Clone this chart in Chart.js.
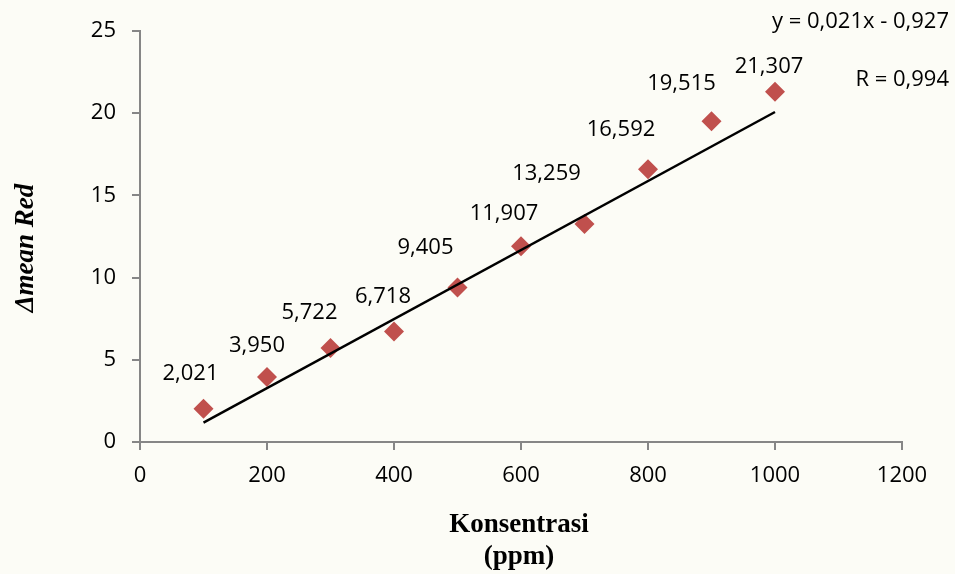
<!DOCTYPE html>
<html>
<head>
<meta charset="utf-8">
<script src="https://cdn.jsdelivr.net/npm/chart.js@4"></script>
<style>
  html, body { margin: 0; padding: 0; background: #fcfcf6; }
  #wrap { width: 955px; height: 574px; }
</style>
</head>
<body>
<div id="wrap"><canvas id="chart" width="955" height="574"></canvas></div>
<script>
// data
const konsentrasi = [100, 200, 300, 400, 500, 600, 700, 800, 900, 1000];
const meanRed = [2.021, 3.950, 5.722, 6.718, 9.405, 11.907, 13.259, 16.592, 19.515, 21.307];
const xTicks = [0, 200, 400, 600, 800, 1000, 1200];
const yTicks = [0, 5, 10, 15, 20, 25];

// trendline from the equation shown on the chart
const slope = 0.021;
const intercept = -0.927;
const trendFrom = 100;
const trendTo = 1000;

// label nudges (px) so labels sit like the original
const labelDx = [-13, -10, -21, -11, -32, -17, -38, -27, -30, -6];
const labelDy = [-35, -31, -35, -35, -40, -33, -50, -39, -37, -25];

const tickFont = { family: 'Open Sans', size: 22 };
const gray = '#868686';

const fmt = v => v.toFixed(3).replace('.', ',');

const pointLabels = {
  id: 'pointLabels',
  afterDatasetsDraw(chart) {
    const ctx = chart.ctx;
    const meta = chart.getDatasetMeta(0);
    ctx.save();
    ctx.font = '22px "Open Sans"';
    ctx.fillStyle = '#000';
    ctx.textAlign = 'center';
    ctx.textBaseline = 'middle';
    meta.data.forEach((pt, i) => {
      ctx.fillText(fmt(meanRed[i]), pt.x + labelDx[i], pt.y + labelDy[i]);
    });
    ctx.restore();
  }
};

const extraText = {
  id: 'extraText',
  afterDraw(chart) {
    const ctx = chart.ctx;
    ctx.save();
    ctx.fillStyle = '#000';
    ctx.textBaseline = 'middle';

    // equation + R
    ctx.font = '22px "Open Sans"';
    ctx.textAlign = 'right';
    ctx.fillText('y = 0,021x - 0,927', 949, 22);
    ctx.fillText('R = 0,994', 949, 80);

    // x title
    ctx.textAlign = 'center';
    ctx.font = 'bold 27px "Liberation Serif"';
    ctx.fillText('Konsentrasi', 519, 525);
    ctx.fillText('(ppm)', 519, 557);

    // y title
    ctx.translate(26, 248);
    ctx.rotate(-Math.PI / 2);
    ctx.font = 'italic bold 27px "Liberation Serif"';
    ctx.fillText('\u0394mean Red', 0, 0);
    ctx.restore();
  }
};

new Chart(document.getElementById('chart'), {
  type: 'scatter',
  data: {
    datasets: [
      {
        label: 'mean Red',
        data: konsentrasi.map((x, i) => ({ x: x, y: meanRed[i] })),
        pointStyle: 'rectRot',
        pointRadius: 10,
        pointHoverRadius: 10,
        backgroundColor: '#c0504d',
        borderColor: '#c0504d',
        borderWidth: 0,
        order: 1
      },
      {
        label: 'trend',
        type: 'line',
        data: [
          { x: trendFrom, y: slope * trendFrom + intercept },
          { x: trendTo, y: slope * trendTo + intercept }
        ],
        borderColor: '#000',
        borderWidth: 2.5,
        pointRadius: 0,
        fill: false,
        order: 0
      }
    ]
  },
  options: {
    responsive: false,
    animation: false,
    layout: { padding: { left: 0, right: 53, top: 31, bottom: 0 } },
    plugins: {
      legend: { display: false },
      tooltip: { enabled: false }
    },
    scales: {
      x: {
        type: 'linear',
        min: 0,
        max: 1200,
        afterBuildTicks: s => { s.ticks = xTicks.map(v => ({ value: v })); },
        afterFit: s => { s.height = 132; },
        grid: { drawOnChartArea: false, color: gray, tickLength: 8, lineWidth: 2 },
        border: { color: gray, width: 2 },
        ticks: { color: '#000', font: tickFont, padding: 13, maxRotation: 0, callback: v => String(v) }
      },
      y: {
        type: 'linear',
        min: 0,
        max: 25,
        afterBuildTicks: s => { s.ticks = yTicks.map(v => ({ value: v })); },
        afterFit: s => { s.width = 140; },
        grid: { drawOnChartArea: false, color: gray, tickLength: 8, lineWidth: 2 },
        border: { color: gray, width: 2 },
        ticks: { color: '#000', font: tickFont, padding: 16, callback: v => String(v) }
      }
    }
  },
  plugins: [pointLabels, extraText]
});
</script>
</body>
</html>
